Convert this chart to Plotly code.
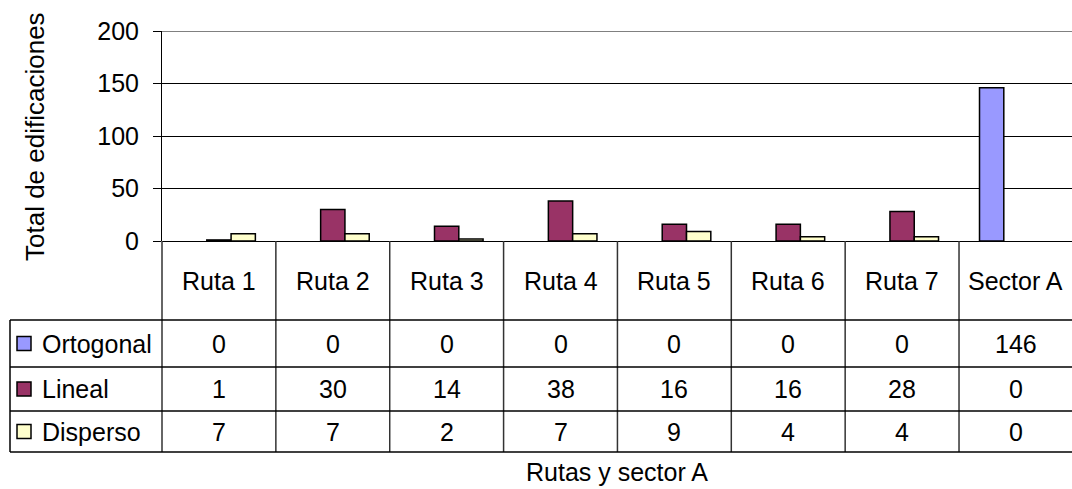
import plotly.graph_objects as go

# Data
categories = ["Ruta 1", "Ruta 2", "Ruta 3", "Ruta 4", "Ruta 5", "Ruta 6", "Ruta 7", "Sector A"]
series_names = ["Ortogonal", "Lineal", "Disperso"]
ortogonal = [0, 0, 0, 0, 0, 0, 0, 146]
lineal = [1, 30, 14, 38, 16, 16, 28, 0]
disperso = [7, 7, 2, 7, 9, 4, 4, 0]
y_ticks = [0, 50, 100, 150, 200]

series_values = [ortogonal, lineal, disperso]
series_colors = ["#9999FF", "#993366", "#FFFFCC"]

FONT = "Liberation Sans, Arial, sans-serif"
FS = 25

W, H = 1072, 489
PLOT_LEFT, PLOT_TOP, PLOT_BOTTOM = 162, 31, 241
PLOT_H = PLOT_BOTTOM - PLOT_TOP
CAT_W = 113.86


def py(y_px):
    """Pixel row -> paper y coordinate."""
    return (PLOT_BOTTOM - y_px) / PLOT_H


def px(x_px):
    """Pixel column -> paper x coordinate."""
    return (x_px - PLOT_LEFT) / (W - PLOT_LEFT)


fig = go.Figure()
for name, vals, col in zip(series_names, series_values, series_colors):
    # empty bars get no outline so nothing is drawn on the baseline
    outline_w = [1.5 if v else 0 for v in vals]
    fig.add_trace(go.Bar(
        x=categories, y=vals, name=name,
        marker=dict(color=col, line=dict(color="black", width=outline_w)),
        showlegend=False,
    ))

x_max = -0.5 + (W - PLOT_LEFT) / CAT_W

fig.update_layout(
    width=W, height=H,
    margin=dict(l=PLOT_LEFT, r=0, t=PLOT_TOP, b=H - PLOT_BOTTOM, pad=0),
    paper_bgcolor="white", plot_bgcolor="white",
    font=dict(family=FONT, size=FS, color="black"),
    barmode="group", bargap=0.36, bargroupgap=0,
    xaxis=dict(type="category", range=[-0.5, x_max], showticklabels=False,
               showgrid=False, showline=False, ticks="", zeroline=False,
               fixedrange=True),
    yaxis=dict(range=[0, 200], tickvals=y_ticks, ticks="outside", ticklen=8,
               tickcolor="black", tickwidth=1, showline=True, linecolor="black",
               linewidth=1, showgrid=True, gridcolor="black", gridwidth=1,
               zeroline=True, zerolinecolor="black", zerolinewidth=1,
               ticklabelstandoff=9, tickfont=dict(size=FS), fixedrange=True),
)

shapes = []
# Plot-area top border
shapes.append(dict(type="line", xref="paper", yref="y", x0=0, x1=1, y0=200, y1=200,
                   line=dict(color="#808080", width=2), layer="above"))

# Data table geometry (pixel rows)
header_bottom = 320
row_edges = [320, 367, 411, 452]
table_left = 10

# Vertical axis line continues down through the table
shapes.append(dict(type="line", xref="paper", yref="paper", x0=0, x1=0,
                   y0=py(PLOT_BOTTOM), y1=py(row_edges[-1]),
                   line=dict(color="#333333", width=1.5)))
# Column separators between categories
for i in range(1, len(categories)):
    shapes.append(dict(type="line", xref="x", yref="paper", x0=i - 0.5, x1=i - 0.5,
                       y0=py(PLOT_BOTTOM), y1=py(row_edges[-1]),
                       line=dict(color="#333333", width=1.5)))
# Horizontal row lines
for yy in row_edges:
    shapes.append(dict(type="line", xref="paper", yref="paper", x0=px(table_left), x1=1,
                       y0=py(yy), y1=py(yy),
                       line=dict(color="black", width=1.5)))
# Left border of legend column
shapes.append(dict(type="line", xref="paper", yref="paper", x0=px(table_left), x1=px(table_left),
                   y0=py(row_edges[0]), y1=py(row_edges[-1]),
                   line=dict(color="black", width=1.5)))

annotations = []
# Header row: category names
for c in categories:
    annotations.append(dict(x=c, xref="x", y=py((PLOT_BOTTOM + header_bottom) / 2), yref="paper",
                            text=c, showarrow=False, font=dict(size=FS),
                            xanchor="center", yanchor="middle"))

# Series rows: legend key, name, values
for r, (name, vals, col) in enumerate(zip(series_names, series_values, series_colors)):
    yc = (row_edges[r] + row_edges[r + 1]) / 2
    shapes.append(dict(type="rect", xref="paper", yref="paper",
                       x0=px(17), x1=px(31), y0=py(yc - 7), y1=py(yc + 7),
                       fillcolor=col, line=dict(color="black", width=1.5)))
    annotations.append(dict(x=px(40), xref="paper", y=py(yc), yref="paper",
                            text=name, showarrow=False, font=dict(size=FS),
                            xanchor="left", yanchor="middle"))
    for c, v in zip(categories, vals):
        annotations.append(dict(x=c, xref="x", y=py(yc), yref="paper",
                                text=str(v), showarrow=False, font=dict(size=FS),
                                xanchor="center", yanchor="middle"))

# Axis titles
annotations.append(dict(x=0.5, xref="paper", y=py(472), yref="paper",
                        text="Rutas y sector A", showarrow=False, font=dict(size=FS),
                        xanchor="center", yanchor="middle"))
annotations.append(dict(x=px(35), xref="paper", y=py(137), yref="paper",
                        text="Total de edificaciones", showarrow=False, font=dict(size=26),
                        textangle=-90, xanchor="center", yanchor="middle"))

fig.update_layout(shapes=shapes, annotations=annotations)
fig.write_html("out.html")
